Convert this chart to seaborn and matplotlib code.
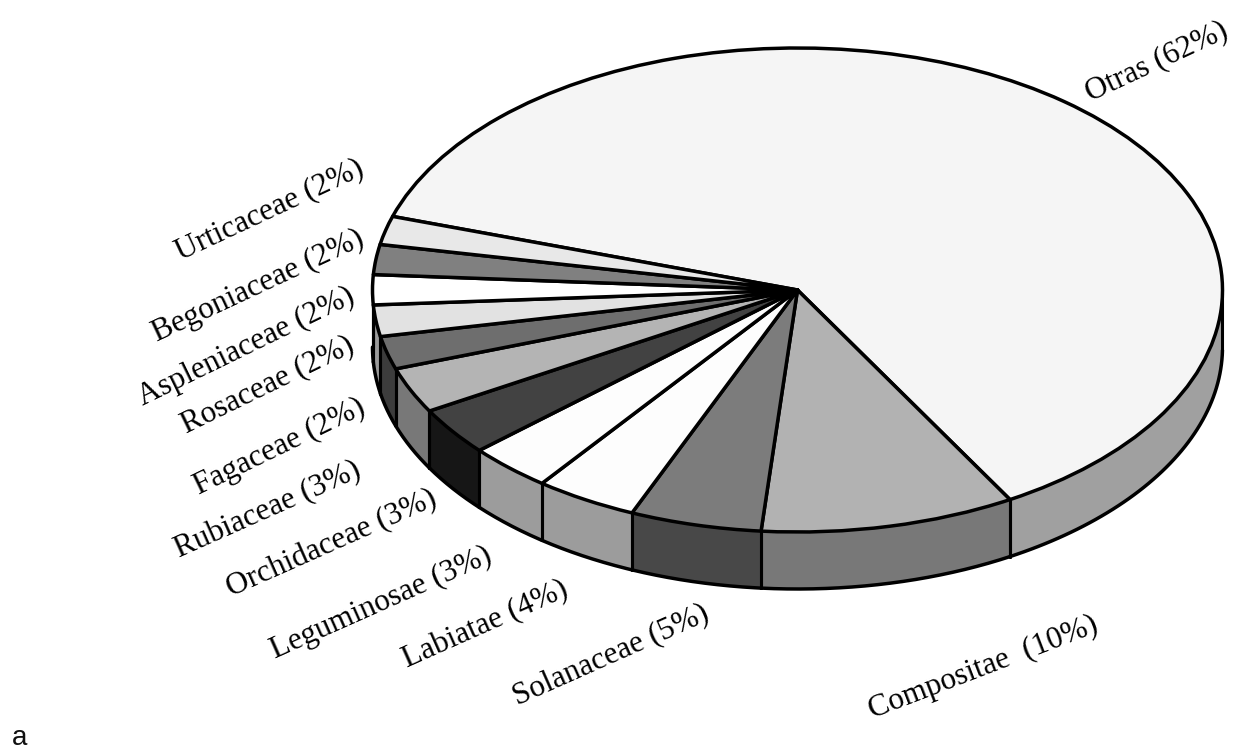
import numpy as np
import matplotlib
matplotlib.use("Agg")
import matplotlib.pyplot as plt
import seaborn as sns

# families, clockwise starting from the big slice
families = ["Otras", "Compositae ", "Solanaceae", "Labiatae", "Leguminosae", "Orchidaceae",
            "Rubiaceae", "Fagaceae", "Rosaceae", "Aspleniaceae", "Begoniaceae", "Urticaceae"]
# rounded figures printed in the labels
percent_label = [62, 10, 5, 4, 3, 3, 3, 2, 2, 2, 2, 2]
# slice sizes
percent = [61.75, 9.7, 5.0, 3.9, 3.2, 3.2, 3.05, 2.2, 2.1, 2.0, 2.0, 1.9]

top_grey = ["#f5f5f5", "#b2b2b2", "#7c7c7c", "#fdfdfd", "#fdfdfd", "#424242",
            "#b4b4b4", "#6e6e6e", "#e2e2e2", "#ffffff", "#808080", "#e8e8e8"]
side_grey = ["#a0a0a0", "#787878", "#484848", "#9c9c9c", "#9c9c9c", "#161616",
             "#787878", "#3c3c3c", "#9c9c9c", "#ffffff", "#808080", "#e8e8e8"]

# label centres in pixels and their rotation
label_xy = [(1157, 62), (983, 668), (611, 655), (485, 625), (381, 603), (332, 544),
            (268, 510), (280, 447), (268, 385), (246, 347), (258, 286), (270, 210)]
label_rot = [25, 21, 24, 24, 24, 24, 24, 26, 26, 26, 25, 25]

W, H = 1242, 756
CX, CY = 797.5, 290
RX, RY = 425, 242
DEPTH = 57 / RY
START = 162.3

sns.set_theme(style="white")
plt.rcParams["font.family"] = ["Liberation Serif", "DejaVu Serif"]

fig = plt.figure(figsize=(W / 100, H / 100), dpi=100)
ax = fig.add_axes([0, 0, 1, 1])

ax.pie(percent, colors=sns.color_palette(top_grey), startangle=START, counterclock=False,
       radius=1, wedgeprops=dict(edgecolor="black", linewidth=2.5, joinstyle="round"))

# the rim: only the part of every slice on the near side of the ellipse
edges = START - np.cumsum([0] + percent) * 360 / sum(percent)
for i in range(len(percent)):
    t1, t0 = edges[i], edges[i + 1]
    th = np.radians(np.linspace(t0, t1, 200))
    keep = np.sin(th) <= 0
    if not keep.any():
        continue
    x, y = np.cos(th[keep]), np.sin(th[keep])
    ax.fill_between(x, y, y - DEPTH, color=side_grey[i], lw=0, zorder=0.5)
    ax.plot(x, y - DEPTH, color="black", lw=2.5, zorder=0.6, solid_capstyle="round")
    for k in [0, -1]:
        ax.plot([x[k], x[k]], [y[k], y[k] - DEPTH], color="black", lw=2.2, zorder=0.6)

ax.set_aspect("auto")
ax.set_xlim(-CX / RX, (W - CX) / RX)
ax.set_ylim(-(H - CY) / RY, CY / RY)
ax.axis("off")

for name, p, (px, py), rot in zip(families, percent_label, label_xy, label_rot):
    fig.text(px / W, 1 - py / H, f"{name} ({p}%)", fontsize=22.5, rotation=rot,
             rotation_mode="anchor", ha="center", va="center", color="black")

fig.text(12 / W, 1 - 738 / H, "a", fontsize=20, family=["Liberation Sans", "DejaVu Sans"],
         ha="left", va="center", color="#111111")

fig.savefig("out.png", dpi=100, facecolor="white")
